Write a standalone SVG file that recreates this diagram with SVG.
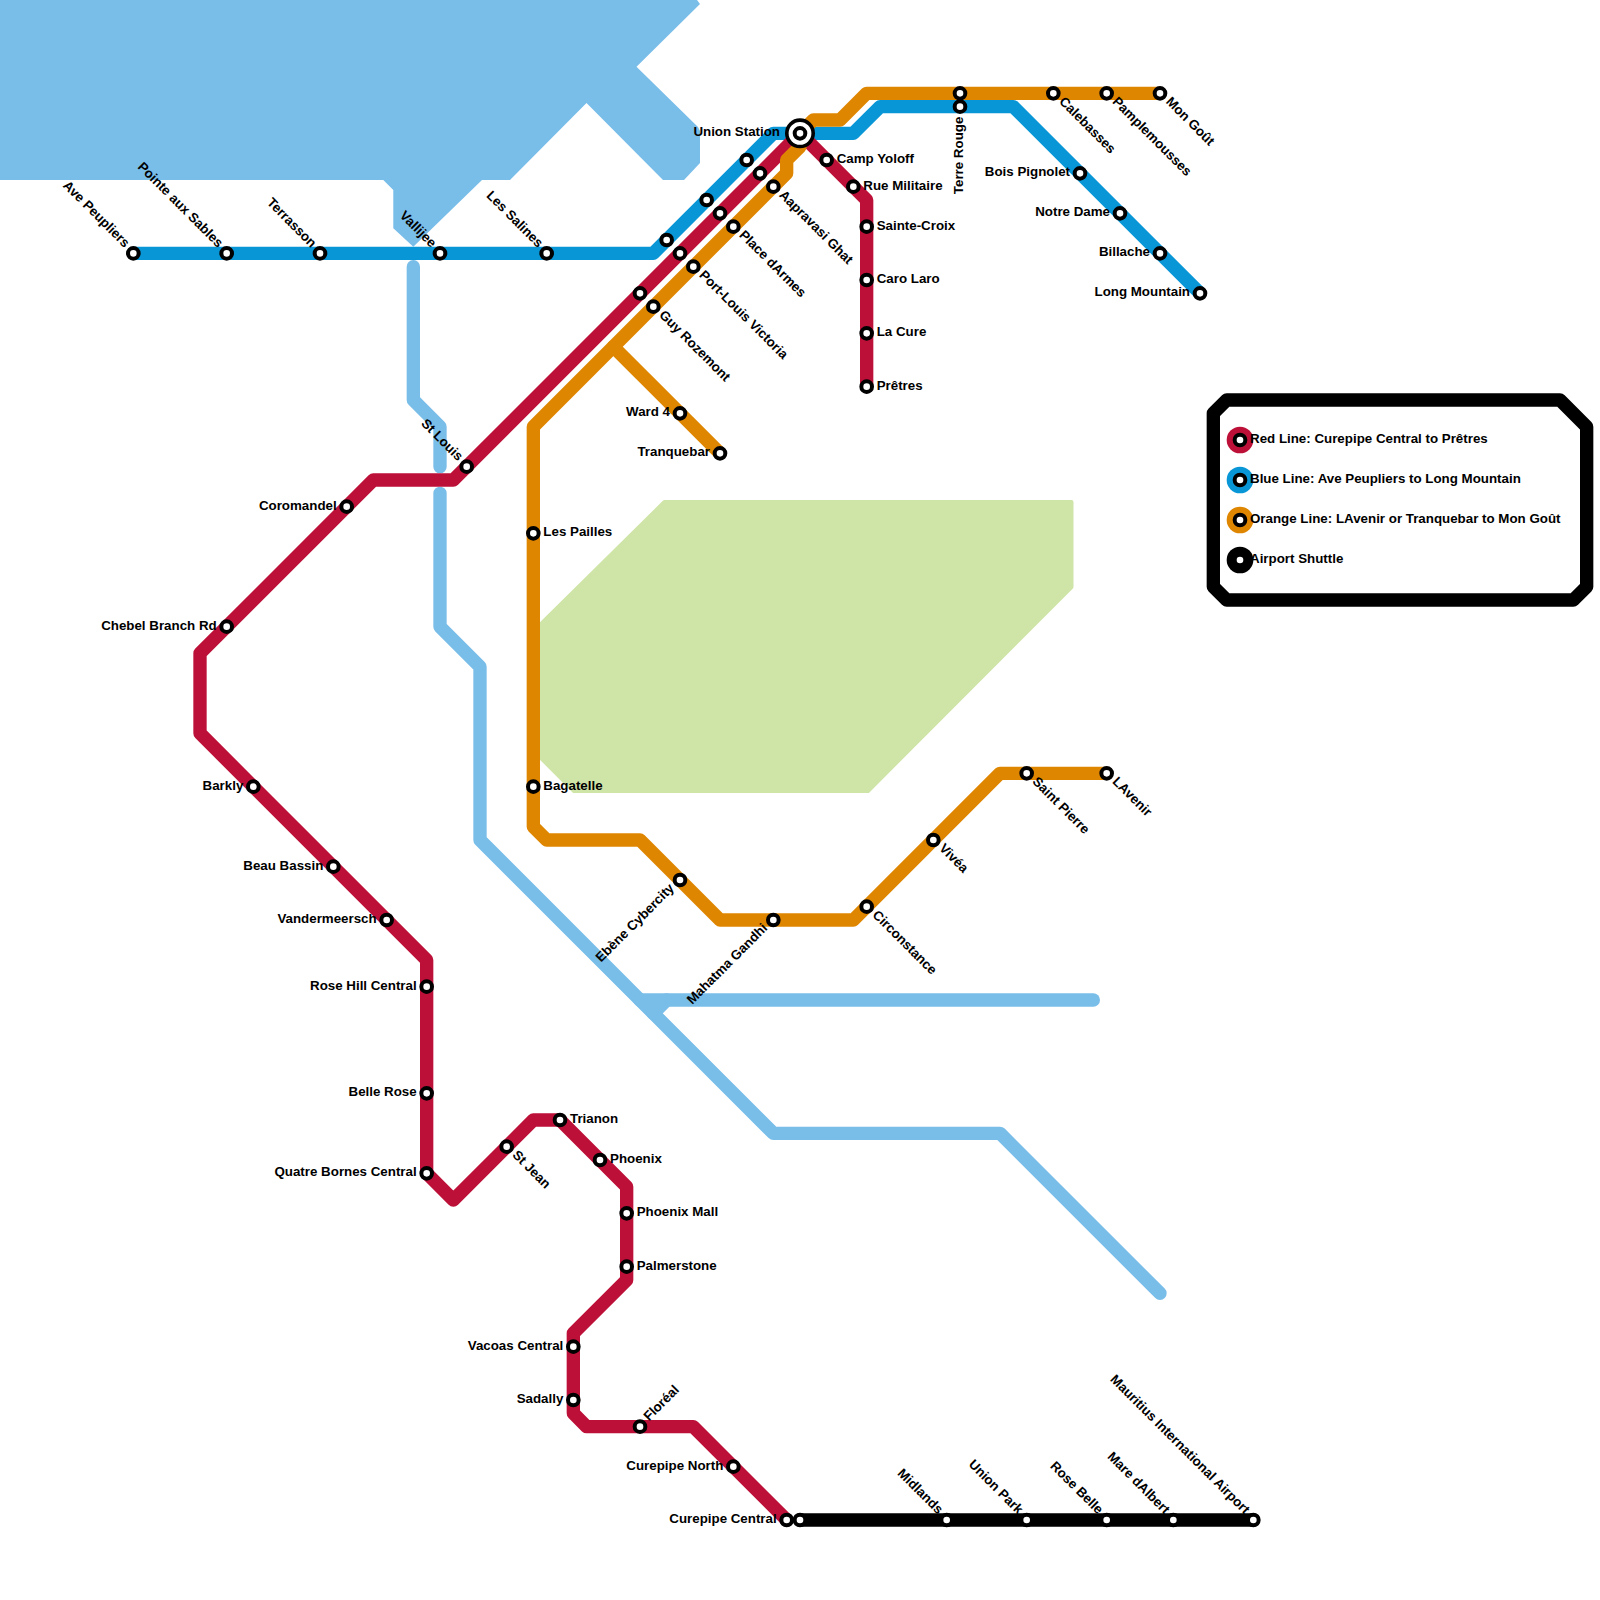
<svg xmlns="http://www.w3.org/2000/svg" width="1600" height="1600" viewBox="0 0 1600 1600">
<style>
text{font-family:"Liberation Sans",Arial,sans-serif;font-weight:bold;font-size:13.33px;fill:#000}
.e{text-anchor:end}
.st{fill:#fff;stroke:#000;stroke-width:4}
.hub{fill:#fff;stroke:#000;stroke-width:3.6}
.ln{fill:none;stroke-width:1;stroke-linecap:round;stroke-linejoin:round}
.red{stroke:#bd1038}.blue{stroke:#0896d7}.orange{stroke:#df8600}.black{stroke:#000}.light{stroke:#79bde9}
</style>
<defs><circle id="s" class="st" r="5.33"/></defs>
<rect width="1600" height="1600" fill="#fff"/>
<g id="water"><polygon fill="#79bde9" points="0,0 697,0 700,4 636.5,66.7 698,127 700,131 700,163 684,180 663,180 586.5,103 510,180 482,180 413.3,246.67 393.3,228.3 393.3,190 383.3,180 0,180"/></g>
<g id="park"><polygon fill="#cfe4a7" stroke="#cfe4a7" stroke-width="4" stroke-linejoin="round" points="664.5,502 1071.5,502 1071.5,587 868,791 574,791 535,752 535,630"/></g>
<g id="connectors" transform="scale(13.33333)">
<polyline class="ln light" points="31,20 31,30 33,32 33,35"/>
<polyline class="ln light" points="33,37 33,47 36,50 36,63 58,85 75,85 87,97"/>
<polyline class="ln light" points="82,75 48,75"/>
<polyline class="ln light" points="50,75 49,76"/>
<polyline class="ln blue" points="10,19 49,19 58,10 64,10 66,8 76,8 90,22"/>
<polyline class="ln red" points="59,114 52,107 44,107 43,106 43,100 47,96 47,89 42,84 40,84 34,90 32,88 32,72 15,55 15,49 28,36 34,36 60,10 65,15 65,29"/>
<polyline class="ln orange" points="87,7 65,7 63,9 61,9 60,10 60,11 59,12 59,13 40,32 40,62 41,63 48,63 54,69 64,69 75,58 83,58"/>
<polyline class="ln orange" points="46,26 54,34"/>
<polyline class="ln black" points="60,114 94,114"/>
</g>
<g id="stations">
<g id="ave-peupliers" transform="translate(133.33 253.33)"><use href="#s"/><text class="e" transform="rotate(45)" x="-10" y="2.7">Ave Peupliers</text></g>
<g id="pointe-aux-sables" transform="translate(226.67 253.33)"><use href="#s"/><text class="e" transform="rotate(45)" x="-10" y="2.7">Pointe aux Sables</text></g>
<g id="terrasson" transform="translate(320 253.33)"><use href="#s"/><text class="e" transform="rotate(45)" x="-10" y="2.7">Terrasson</text></g>
<g id="vallijee" transform="translate(440 253.33)"><use href="#s"/><text class="e" transform="rotate(45)" x="-10" y="2.7">Vallijee</text></g>
<g id="les-salines" transform="translate(546.67 253.33)"><use href="#s"/><text class="e" transform="rotate(45)" x="-10" y="2.7">Les Salines</text></g>
<g id="blue-a" transform="translate(666.67 240)"><use href="#s"/></g>
<g id="blue-b" transform="translate(706.67 200)"><use href="#s"/></g>
<g id="blue-c" transform="translate(746.67 160)"><use href="#s"/></g>
<g id="red-a" transform="translate(640 293.33)"><use href="#s"/></g>
<g id="red-b" transform="translate(680 253.33)"><use href="#s"/></g>
<g id="red-c" transform="translate(720 213.33)"><use href="#s"/></g>
<g id="red-d" transform="translate(760 173.33)"><use href="#s"/></g>
<g id="guy-rozemont" transform="translate(653.33 306.67)"><use href="#s"/><text transform="rotate(45)" x="10" y="2.7">Guy Rozemont</text></g>
<g id="port-louis-victoria" transform="translate(693.33 266.67)"><use href="#s"/><text transform="rotate(45)" x="10" y="2.7">Port-Louis Victoria</text></g>
<g id="place-darmes" transform="translate(733.33 226.67)"><use href="#s"/><text transform="rotate(45)" x="10" y="2.7">Place dArmes</text></g>
<g id="aapravasi-ghat" transform="translate(773.33 186.67)"><use href="#s"/><text transform="rotate(45)" x="10" y="2.7">Aapravasi Ghat</text></g>
<g id="union-station" transform="translate(800 133.33)"><circle class="hub" r="13.2"/><use href="#s"/><text class="e" x="-20" y="3">Union Station</text></g>
<g id="camp-yoloff" transform="translate(826.67 160)"><use href="#s"/><text x="10" y="3">Camp Yoloff</text></g>
<g id="rue-militaire" transform="translate(853.33 186.67)"><use href="#s"/><text x="10" y="3">Rue Militaire</text></g>
<g id="sainte-croix" transform="translate(866.67 226.67)"><use href="#s"/><text x="10" y="3">Sainte-Croix</text></g>
<g id="caro-laro" transform="translate(866.67 280)"><use href="#s"/><text x="10" y="3">Caro Laro</text></g>
<g id="la-cure" transform="translate(866.67 333.33)"><use href="#s"/><text x="10" y="3">La Cure</text></g>
<g id="pretres" transform="translate(866.67 386.67)"><use href="#s"/><text x="10" y="3">Prêtres</text></g>
<g id="terre-rouge-o" transform="translate(960 93.33)"><use href="#s"/></g>
<g id="terre-rouge" transform="translate(960 106.67)"><use href="#s"/><text class="e" transform="rotate(-90)" x="-10" y="3">Terre Rouge</text></g>
<g id="calebasses" transform="translate(1053.33 93.33)"><use href="#s"/><text transform="rotate(45)" x="10" y="2.7">Calebasses</text></g>
<g id="pamplemousses" transform="translate(1106.67 93.33)"><use href="#s"/><text transform="rotate(45)" x="10" y="2.7">Pamplemousses</text></g>
<g id="mon-gout" transform="translate(1160 93.33)"><use href="#s"/><text transform="rotate(45)" x="10" y="2.7">Mon Goût</text></g>
<g id="bois-pignolet" transform="translate(1080 173.33)"><use href="#s"/><text class="e" x="-10" y="3">Bois Pignolet</text></g>
<g id="notre-dame" transform="translate(1120 213.33)"><use href="#s"/><text class="e" x="-10" y="3">Notre Dame</text></g>
<g id="billache" transform="translate(1160 253.33)"><use href="#s"/><text class="e" x="-10" y="3">Billache</text></g>
<g id="long-mountain" transform="translate(1200 293.33)"><use href="#s"/><text class="e" x="-10" y="3">Long Mountain</text></g>
<g id="ward-4" transform="translate(680 413.33)"><use href="#s"/><text class="e" x="-10" y="3">Ward 4</text></g>
<g id="tranquebar" transform="translate(720 453.33)"><use href="#s"/><text class="e" x="-10" y="3">Tranquebar</text></g>
<g id="st-louis" transform="translate(466.67 466.67)"><use href="#s"/><text class="e" transform="rotate(45)" x="-10" y="2.7">St Louis</text></g>
<g id="coromandel" transform="translate(346.67 506.67)"><use href="#s"/><text class="e" x="-10" y="3">Coromandel</text></g>
<g id="chebel-branch-rd" transform="translate(226.67 626.67)"><use href="#s"/><text class="e" x="-10" y="3">Chebel Branch Rd</text></g>
<g id="barkly" transform="translate(253.33 786.67)"><use href="#s"/><text class="e" x="-10" y="3">Barkly</text></g>
<g id="beau-bassin" transform="translate(333.33 866.67)"><use href="#s"/><text class="e" x="-10" y="3">Beau Bassin</text></g>
<g id="vandermeersch" transform="translate(386.67 920)"><use href="#s"/><text class="e" x="-10" y="3">Vandermeersch</text></g>
<g id="rose-hill-central" transform="translate(426.67 986.67)"><use href="#s"/><text class="e" x="-10" y="3">Rose Hill Central</text></g>
<g id="belle-rose" transform="translate(426.67 1093.33)"><use href="#s"/><text class="e" x="-10" y="3">Belle Rose</text></g>
<g id="quatre-bornes-central" transform="translate(426.67 1173.33)"><use href="#s"/><text class="e" x="-10" y="3">Quatre Bornes Central</text></g>
<g id="st-jean" transform="translate(506.67 1146.67)"><use href="#s"/><text transform="rotate(45)" x="10" y="2.7">St Jean</text></g>
<g id="trianon" transform="translate(560 1120)"><use href="#s"/><text x="10" y="3">Trianon</text></g>
<g id="phoenix" transform="translate(600 1160)"><use href="#s"/><text x="10" y="3">Phoenix</text></g>
<g id="phoenix-mall" transform="translate(626.67 1213.33)"><use href="#s"/><text x="10" y="3">Phoenix Mall</text></g>
<g id="palmerstone" transform="translate(626.67 1266.67)"><use href="#s"/><text x="10" y="3">Palmerstone</text></g>
<g id="vacoas-central" transform="translate(573.33 1346.67)"><use href="#s"/><text class="e" x="-10" y="3">Vacoas Central</text></g>
<g id="sadally" transform="translate(573.33 1400)"><use href="#s"/><text class="e" x="-10" y="3">Sadally</text></g>
<g id="floreal" transform="translate(640 1426.67)"><use href="#s"/><text transform="rotate(-45)" x="10" y="2.7">Floréal</text></g>
<g id="curepipe-north" transform="translate(733.33 1466.67)"><use href="#s"/><text class="e" x="-10" y="3">Curepipe North</text></g>
<g id="curepipe-central" transform="translate(786.67 1520)"><use href="#s"/><text class="e" x="-10" y="3">Curepipe Central</text></g>
<g id="curepipe-central-shuttle" transform="translate(800 1520)"><use href="#s"/></g>
<g id="midlands" transform="translate(946.67 1520)"><use href="#s"/><text class="e" transform="rotate(45)" x="-10" y="2.7">Midlands</text></g>
<g id="union-park" transform="translate(1026.67 1520)"><use href="#s"/><text class="e" transform="rotate(45)" x="-10" y="2.7">Union Park</text></g>
<g id="rose-belle" transform="translate(1106.67 1520)"><use href="#s"/><text class="e" transform="rotate(45)" x="-10" y="2.7">Rose Belle</text></g>
<g id="mare-dalbert" transform="translate(1173.33 1520)"><use href="#s"/><text class="e" transform="rotate(45)" x="-10" y="2.7">Mare dAlbert</text></g>
<g id="airport" transform="translate(1253.33 1520)"><use href="#s"/><text class="e" transform="rotate(45)" x="-10" y="2.7">Mauritius International Airport</text></g>
<g id="les-pailles" transform="translate(533.33 533.33)"><use href="#s"/><text x="10" y="3">Les Pailles</text></g>
<g id="bagatelle" transform="translate(533.33 786.67)"><use href="#s"/><text x="10" y="3">Bagatelle</text></g>
<g id="ebene-cybercity" transform="translate(680 880)"><use href="#s"/><text class="e" transform="rotate(-45)" x="-10" y="2.7">Ebène Cybercity</text></g>
<g id="mahatma-gandhi" transform="translate(773.33 920)"><use href="#s"/><text class="e" transform="rotate(-45)" x="-10" y="2.7">Mahatma Gandhi</text></g>
<g id="circonstance" transform="translate(866.67 906.67)"><use href="#s"/><text transform="rotate(45)" x="10" y="2.7">Circonstance</text></g>
<g id="vivea" transform="translate(933.33 840)"><use href="#s"/><text transform="rotate(45)" x="10" y="2.7">Vivéa</text></g>
<g id="saint-pierre" transform="translate(1026.67 773.33)"><use href="#s"/><text transform="rotate(45)" x="10" y="2.7">Saint Pierre</text></g>
<g id="lavenir" transform="translate(1106.67 773.33)"><use href="#s"/><text transform="rotate(45)" x="10" y="2.7">LAvenir</text></g>
</g>
<g id="legend">
<path d="M1226.67 400H1560L1586.67 426.67V586.67L1573.33 600H1226.67L1213.33 586.67V413.33Z" fill="#fff" stroke="#000" stroke-width="13.33" stroke-linejoin="round"/>
<g transform="translate(1240 440)"><circle r="13.33" fill="#bd1038"/><use href="#s"/><text x="10" y="3">Red Line: Curepipe Central to Prêtres</text></g>
<g transform="translate(1240 480)"><circle r="13.33" fill="#0896d7"/><use href="#s"/><text x="10" y="3">Blue Line: Ave Peupliers to Long Mountain</text></g>
<g transform="translate(1240 520)"><circle r="13.33" fill="#df8600"/><use href="#s"/><text x="10" y="3">Orange Line: LAvenir or Tranquebar to Mon Goût</text></g>
<g transform="translate(1240 560)"><circle r="13.33" fill="#000"/><use href="#s"/><text x="10" y="3">Airport Shuttle</text></g>
</g>
</svg>
